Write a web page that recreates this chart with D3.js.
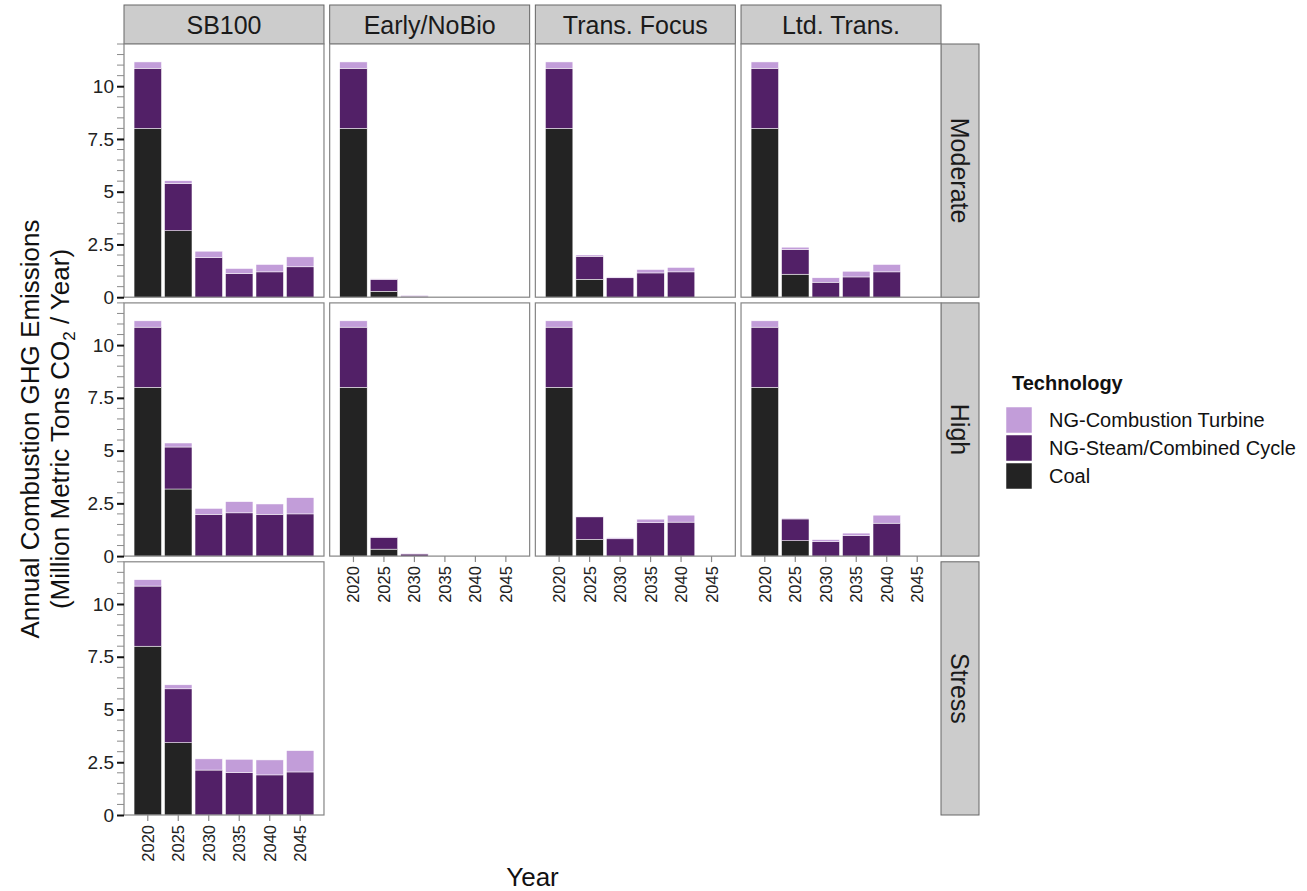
<!DOCTYPE html>
<html>
<head>
<meta charset="utf-8">
<script src="https://cdn.jsdelivr.net/npm/d3@7"></script>
<style>
  html, body { margin: 0; padding: 0; background: #ffffff; }
  svg { display: block; font-family: "Liberation Sans", Arial, sans-serif; }
</style>
</head>
<body>
<svg id="chart" width="1307" height="891"></svg>
<script>
// Facet layout: scenarios across, load sensitivities down
const years = [2020, 2025, 2030, 2035, 2040, 2045];
const scenarios = ["SB100", "Early/NoBio", "Trans. Focus", "Ltd. Trans."];
const sensitivities = ["Moderate", "High", "Stress"];
const technologies = ["Coal", "NG-Steam/Combined Cycle", "NG-Combustion Turbine"];
const techColors = ["#232323", "#522067", "#C29DD9"];
const yTicks = [0, 2.5, 5, 7.5, 10];

// Emissions (million metric tons CO2 / year), one list per scenario, by year
const coalModerate = [
  [8.0, 3.15, 0, 0, 0, 0],
  [8.0, 0.28, 0, 0, 0, 0],
  [8.0, 0.85, 0, 0, 0, 0],
  [8.0, 1.09, 0, 0, 0, 0]
];
const steamModerate = [
  [2.85, 2.24, 1.87, 1.12, 1.20, 1.44],
  [2.85, 0.57, 0.05, 0, 0, 0],
  [2.85, 1.09, 0.92, 1.15, 1.20, 0],
  [2.85, 1.17, 0.71, 0.96, 1.20, 0]
];
const ctModerate = [
  [0.30, 0.13, 0.31, 0.24, 0.35, 0.47],
  [0.30, 0.02, 0.04, 0, 0, 0],
  [0.30, 0.06, 0.04, 0.16, 0.21, 0],
  [0.30, 0.11, 0.21, 0.27, 0.35, 0]
];

const coalHigh = [
  [8.0, 3.18, 0, 0, 0, 0],
  [8.0, 0.33, 0, 0, 0, 0],
  [8.0, 0.79, 0, 0, 0, 0],
  [8.0, 0.73, 0, 0, 0, 0]
];
const steamHigh = [
  [2.85, 1.99, 1.98, 2.05, 1.98, 2.00],
  [2.85, 0.56, 0.10, 0, 0, 0],
  [2.85, 1.07, 0.82, 1.58, 1.61, 0],
  [2.85, 1.03, 0.68, 0.97, 1.56, 0]
];
const ctHigh = [
  [0.30, 0.19, 0.28, 0.53, 0.49, 0.77],
  [0.30, 0.02, 0.03, 0, 0, 0],
  [0.30, 0.03, 0.05, 0.17, 0.33, 0],
  [0.30, 0.04, 0.10, 0.12, 0.38, 0]
];

const coalStress = [[8.0, 3.43, 0, 0, 0, 0]];
const steamStress = [[2.85, 2.55, 2.13, 2.01, 1.90, 2.04]];
const ctStress = [[0.30, 0.19, 0.53, 0.63, 0.71, 1.01]];

const byRow = {
  Moderate: [coalModerate, steamModerate, ctModerate],
  High: [coalHigh, steamHigh, ctHigh],
  Stress: [coalStress, steamStress, ctStress]
};

const svg = d3.select("#chart");

// Panel grid geometry
const gridLeft = 124, gridRight = 941, gridTop = 44, gridBottom = 815, gap = 5.7;
const pw = (gridRight - gridLeft - gap * 3) / 4;
const ph = (gridBottom - gridTop - gap * 2) / 3;
const stripH = 39, stripW = 38;

const y = d3.scaleLinear().domain([0, 12]).range([ph, 0]);
const x = d3.scaleBand().domain(years).range([0, pw]).paddingInner(0.1).paddingOuter(0.33);
const color = d3.scaleOrdinal().domain(technologies).range(techColors);

// Top strips
scenarios.forEach((s, c) => {
  const gx = gridLeft + c * (pw + gap);
  const g = svg.append("g").attr("transform", `translate(${gx},${gridTop - stripH})`);
  g.append("rect").attr("width", pw).attr("height", stripH)
    .attr("fill", "#CCCCCC").attr("stroke", "#666666").attr("stroke-width", 1);
  g.append("text").attr("x", pw / 2).attr("y", stripH / 2).attr("dy", "0.36em")
    .attr("text-anchor", "middle").attr("font-size", 25).attr("fill", "#1a1a1a").text(s);
});

// Right strips
sensitivities.forEach((r, ri) => {
  const gy = gridTop + ri * (ph + gap);
  const g = svg.append("g").attr("transform", `translate(${gridRight},${gy})`);
  g.append("rect").attr("width", stripW).attr("height", ph)
    .attr("fill", "#CCCCCC").attr("stroke", "#666666").attr("stroke-width", 1);
  g.append("text").attr("transform", `translate(${stripW / 2},${ph / 2}) rotate(90)`)
    .attr("dy", "0.36em").attr("text-anchor", "middle").attr("font-size", 25)
    .attr("fill", "#1a1a1a").text(r);
});

// Panels
sensitivities.forEach((r, ri) => {
  const [coalArr, steamArr, ctArr] = byRow[r];
  coalArr.forEach((_, c) => {
    const gx = gridLeft + c * (pw + gap);
    const gy = gridTop + ri * (ph + gap);
    const g = svg.append("g").attr("transform", `translate(${gx},${gy})`);
    g.append("rect").attr("width", pw).attr("height", ph).attr("fill", "#ffffff");

    const rows = years.map((yr, i) => ({
      year: yr,
      "Coal": coalArr[c][i],
      "NG-Steam/Combined Cycle": steamArr[c][i],
      "NG-Combustion Turbine": ctArr[c][i]
    }));
    const stacked = d3.stack().keys(technologies)(rows);

    g.selectAll("g.layer").data(stacked).join("g").attr("class", "layer")
      .attr("fill", d => color(d.key))
      .selectAll("rect").data(d => d.filter(p => p[1] - p[0] > 0)).join("rect")
      .attr("x", d => x(d.data.year))
      .attr("width", x.bandwidth())
      .attr("y", d => y(d[1]))
      .attr("height", d => y(d[0]) - y(d[1]))
      .attr("stroke", "#ffffff").attr("stroke-width", 0.5);

    g.append("rect").attr("width", pw).attr("height", ph).attr("fill", "none")
      .attr("stroke", "#858585").attr("stroke-width", 1.2);

    // Left axis on first column
    if (c === 0) {
      const minor = d3.range(0, 12.01, 0.5).filter(v => !yTicks.includes(v));
      g.selectAll("line.minor").data(minor).join("line").attr("class", "minor")
        .attr("x1", -7).attr("x2", 0).attr("y1", d => y(d)).attr("y2", d => y(d))
        .attr("stroke", "#8a8a8a").attr("stroke-width", 1);
      const ax = d3.axisLeft(y).tickValues(yTicks).tickSize(7).tickPadding(3)
        .tickFormat(d3.format("~g"));
      const a = g.append("g").call(ax);
      a.select(".domain").remove();
      a.selectAll(".tick line").attr("stroke", "#111").attr("stroke-width", 2);
      a.selectAll(".tick text").attr("font-size", 19).attr("fill", "#222")
        .attr("font-family", "Liberation Sans, Arial, sans-serif");
    }

    // Bottom axis on the lowest panel of each column
    const lowest = (c === 0 && ri === 2) || (c > 0 && ri === 1);
    if (lowest) {
      const ax = d3.axisBottom(x).tickSize(6).tickPadding(4);
      const a = g.append("g").attr("transform", `translate(0,${ph})`).call(ax);
      a.select(".domain").remove();
      a.selectAll(".tick line").attr("stroke", "#8a8a8a").attr("stroke-width", 1.2);
      a.selectAll(".tick text")
        .attr("font-size", 16.5).attr("fill", "#222")
        .attr("font-family", "Liberation Sans, Arial, sans-serif")
        .attr("text-anchor", "end")
        .attr("transform", "rotate(-90)")
        .attr("x", -10).attr("y", 0).attr("dy", "0.36em");
    }
  });
});

// Axis titles
const yTitle = svg.append("text")
  .attr("transform", "translate(39,429) rotate(-90)")
  .attr("text-anchor", "middle").attr("font-size", 26).attr("fill", "#111");
yTitle.append("tspan").attr("x", 0).attr("y", 0).text("Annual Combustion GHG Emissions");
const l2 = svg.append("text")
  .attr("transform", "translate(69,429) rotate(-90)")
  .attr("text-anchor", "middle").attr("font-size", 26).attr("fill", "#111");
l2.append("tspan").text("(Million Metric Tons CO");
l2.append("tspan").attr("font-size", 17).attr("dy", 6).text("2");
l2.append("tspan").attr("dy", -6).text(" / Year)");

svg.append("text").attr("x", (gridLeft + gridRight) / 2).attr("y", 886)
  .attr("text-anchor", "middle").attr("font-size", 26).attr("fill", "#111").text("Year");

// Legend
const legend = svg.append("g").attr("transform", "translate(1006,383)");
legend.append("text").attr("x", 6).attr("y", 7).attr("font-size", 20)
  .attr("font-weight", "bold").attr("fill", "#111").text("Technology");
const legendOrder = technologies.slice().reverse();
legendOrder.forEach((t, i) => {
  const ky = 24 + i * 28;
  legend.append("rect").attr("x", 0).attr("y", ky).attr("width", 26).attr("height", 26)
    .attr("fill", color(t)).attr("stroke", "#ffffff").attr("stroke-width", 0.5);
  legend.append("text").attr("x", 43).attr("y", ky + 13).attr("dy", "0.35em")
    .attr("font-size", 20).attr("fill", "#111").text(t);
});
</script>
</body>
</html>
